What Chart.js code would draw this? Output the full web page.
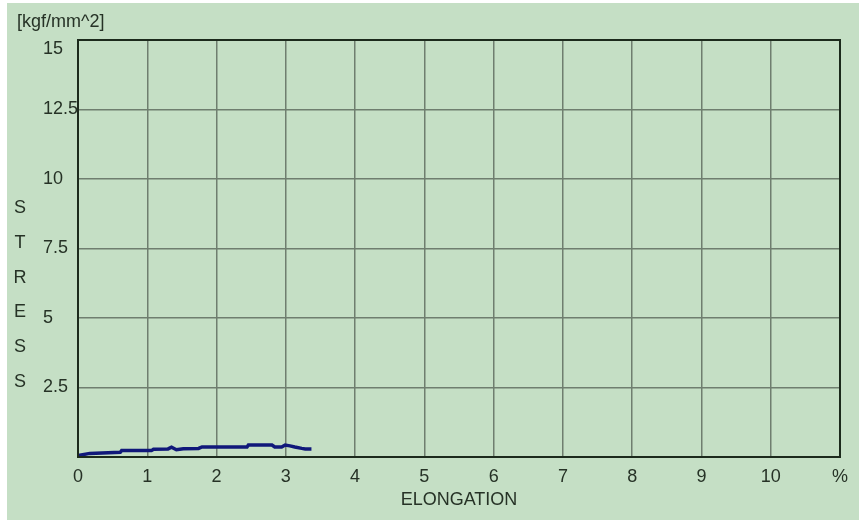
<!DOCTYPE html>
<html>
<head>
<meta charset="utf-8">
<script src="https://cdn.jsdelivr.net/npm/chart.js@4.4.1/dist/chart.umd.min.js"></script>
<style>
  html, body { margin: 0; padding: 0; background: #fff; }
  #wrap { position: absolute; left: 7px; top: 3px; width: 852px; height: 517px; background: #c5dfc5; }
</style>
</head>
<body>
<div id="wrap"><canvas id="chart" width="852" height="517"></canvas></div>
<script>
// Stress / elongation curve

const elongation = [0, 0.17, 0.61, 0.63, 1.06, 1.09, 1.30, 1.35, 1.42, 1.52, 1.74, 1.79, 2.44, 2.46, 2.80, 2.84, 2.94, 2.99, 3.06, 3.13, 3.23, 3.28, 3.37];
const stress     = [0.05, 0.13, 0.17, 0.23, 0.23, 0.28, 0.29, 0.35, 0.26, 0.30, 0.31, 0.36, 0.36, 0.43, 0.43, 0.36, 0.36, 0.43, 0.40, 0.36, 0.31, 0.29, 0.29];

const xTicks = [0, 1, 2, 3, 4, 5, 6, 7, 8, 9, 10, 11];
const xTickLabels = ['0', '1', '2', '3', '4', '5', '6', '7', '8', '9', '10', '%'];
const yTickLabels = { 2.5: '2.5', 5: '5', 7.5: '7.5', 10: '10', 12.5: '12.5', 15: ['', '15'] };

const unitLabel = '[kgf/mm^2]';
const yTitle = ['S', 'T', 'R', 'E', 'S', 'S'];
const xTitle = 'ELONGATION';

const FONT = 'Liberation Sans';
const TEXT = '#263226';
const GRID = '#6f7e6f';

const framePlugin = {
  id: 'frame',
  afterDraw(chart) {
    const { ctx, chartArea: a } = chart;
    ctx.save();
    ctx.strokeStyle = '#1c2a1c';
    ctx.lineWidth = 2;
    ctx.strokeRect(a.left, a.top, a.right - a.left, a.bottom - a.top);

    ctx.fillStyle = TEXT;
    ctx.font = `18px "${FONT}"`;
    ctx.textBaseline = 'middle';
    ctx.textAlign = 'left';
    ctx.fillText(unitLabel, 10, 19);

    ctx.textAlign = 'center';
    yTitle.forEach((ch, i) => ctx.fillText(ch, 13, 205 + i * 34.8));
    ctx.restore();
  },
};

new Chart(document.getElementById('chart'), {
  type: 'line',
  data: {
    datasets: [{
      data: elongation.map((x, i) => ({ x, y: stress[i] })),
      borderColor: '#10187a',
      borderWidth: 3.5,
      pointRadius: 0,
      tension: 0,
      fill: false,
    }],
  },
  options: {
    responsive: false,
    animation: false,
    layout: { padding: { left: 36, top: 37, right: 19, bottom: 0 } },
    plugins: { legend: { display: false }, tooltip: { enabled: false } },
    scales: {
      x: {
        type: 'linear',
        min: 0,
        max: 11,
        afterBuildTicks: s => { s.ticks = xTicks.map(v => ({ value: v })); },
        afterFit: s => { s.height = 63; },
        grid: { color: GRID, lineWidth: 1.5, drawTicks: false },
        border: { display: false },
        ticks: {
          padding: 9,
          color: TEXT,
          font: { family: FONT, size: 18 },
          maxRotation: 0,
          callback: v => xTickLabels[xTicks.indexOf(v)],
        },
        title: {
          display: true,
          text: xTitle,
          color: TEXT,
          font: { family: FONT, size: 18 },
          padding: { top: 0, bottom: 9 },
        },
      },
      y: {
        type: 'linear',
        min: 0,
        max: 15,
        ticks: {
          stepSize: 2.5,
          color: TEXT,
          crossAlign: 'far',
          padding: 0,
          font: { family: FONT, size: 18, lineHeight: 1 },
          callback: v => yTickLabels[v] ?? '',
        },
        afterFit: s => { s.width = 35; },
        grid: { color: GRID, lineWidth: 1.5, drawTicks: false },
        border: { display: false },
      },
    },
  },
  plugins: [framePlugin],
});
</script>
</body>
</html>
